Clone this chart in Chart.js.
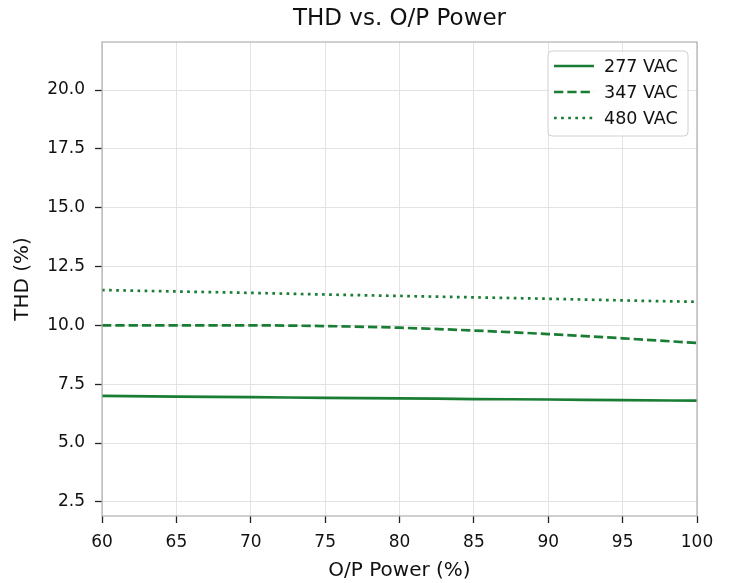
<!DOCTYPE html>
<html>
<head>
<meta charset="utf-8">
<script src="https://cdn.jsdelivr.net/npm/chart.js@4/dist/chart.umd.min.js"></script>
<style>
html,body{margin:0;padding:0;background:#fff;}
#wrap{width:730px;height:583px;position:relative;}
</style>
</head>
<body>
<div id="wrap"><canvas id="c"></canvas></div>
<script>
const opPower = [60, 65, 70, 75, 80, 85, 90, 95, 100];
const thd277 = [7.00, 6.97, 6.95, 6.92, 6.90, 6.87, 6.85, 6.82, 6.80];
const thd347 = [10.00, 10.00, 10.00, 9.97, 9.90, 9.78, 9.63, 9.45, 9.25];
const thd480 = [11.50, 11.44, 11.38, 11.31, 11.25, 11.19, 11.13, 11.06, 11.00];
const seriesLabels = ['277 VAC', '347 VAC', '480 VAC'];
const yTickValues = [2.5, 5.0, 7.5, 10.0, 12.5, 15.0, 17.5, 20.0];
const xTickValues = [60, 65, 70, 75, 80, 85, 90, 95, 100];
const chartTitle = 'THD vs. O/P Power';

const GREEN = 'rgb(26,125,52)';
const FONT = "'DejaVu Sans', sans-serif";
const dashes = [[], [9.3, 4], [2.7, 4.4]];

function pts(arr){ return opPower.map((x,i)=>({x:x, y:arr[i]})); }

const frameLegend = {
  id: 'frameLegend',
  afterDraw(chart) {
    const {ctx, chartArea: a} = chart;
    ctx.save();
    // title centered over plot area
    ctx.fillStyle = '#111';
    ctx.font = '23px ' + FONT;
    ctx.textAlign = 'center';
    ctx.textBaseline = 'middle';
    ctx.fillText(chartTitle, (a.left + a.right) / 2, 19);
    // frame
    ctx.strokeStyle = '#b0b0b0';
    ctx.lineWidth = 1.2;
    ctx.strokeRect(a.left, a.top, a.right - a.left, a.bottom - a.top);
    // legend
    const bx = 548, by = 51, bw = 140, bh = 85, r = 4;
    ctx.beginPath();
    ctx.moveTo(bx + r, by);
    ctx.arcTo(bx + bw, by, bx + bw, by + bh, r);
    ctx.arcTo(bx + bw, by + bh, bx, by + bh, r);
    ctx.arcTo(bx, by + bh, bx, by, r);
    ctx.arcTo(bx, by, bx + bw, by, r);
    ctx.closePath();
    ctx.fillStyle = 'rgba(255,255,255,0.8)';
    ctx.fill();
    ctx.strokeStyle = '#d0d0d0';
    ctx.lineWidth = 1;
    ctx.stroke();
    const rows = [66, 92, 118];
    chart.data.datasets.forEach((ds, i) => {
      ctx.beginPath();
      ctx.setLineDash(ds.borderDash || []);
      ctx.strokeStyle = ds.borderColor;
      ctx.lineWidth = ds.borderWidth;
      ctx.moveTo(554, rows[i]);
      ctx.lineTo(594, rows[i]);
      ctx.stroke();
      ctx.setLineDash([]);
      ctx.fillStyle = '#111';
      ctx.font = '17.5px ' + FONT;
      ctx.textBaseline = 'middle';
      ctx.textAlign = 'left';
      ctx.fillText(ds.label, 604, rows[i] + 1);
    });
    ctx.restore();
  }
};

new Chart(document.getElementById('c'), {
  type: 'line',
  data: {
    datasets: [thd277, thd347, thd480].map((d, i) => ({
      label: seriesLabels[i],
      data: pts(d),
      borderColor: GREEN,
      backgroundColor: GREEN,
      borderWidth: 2.7,
      borderDash: dashes[i],
      pointRadius: 0,
      fill: false,
      cubicInterpolationMode: 'monotone'
    }))
  },
  options: {
    responsive: true,
    maintainAspectRatio: false,
    animation: false,
    layout: { padding: { left: 0, right: 33, top: 42, bottom: 0 } },
    plugins: {
      legend: { display: false },
      tooltip: { enabled: false },
      title: { display: false }
    },
    scales: {
      x: {
        type: 'linear',
        min: 60, max: 100,
        afterFit(s) { s.height = 67; },
        afterBuildTicks(s) { s.ticks = xTickValues.map(v => ({value: v})); },
        ticks: {
          color: '#111',
          font: { family: FONT, size: 17 },
          padding: 9,
          maxRotation: 0,
          callback: v => String(v)
        },
        grid: { color: '#e3e3e3', lineWidth: 1, tickColor: '#222', tickLength: 7, tickWidth: 1.3 },
        border: { display: false },
        title: {
          display: true, text: 'O/P Power (%)', color: '#111',
          font: { family: FONT, size: 20 }, padding: { top: 0, bottom: 0 }
        }
      },
      y: {
        type: 'linear',
        min: 1.9, max: 22.04,
        afterFit(s) { s.width = 102; },
        afterBuildTicks(s) { s.ticks = yTickValues.map(v => ({value: v})); },
        ticks: {
          color: '#111',
          font: { family: FONT, size: 17 },
          padding: 10,
          callback: v => Number(v).toFixed(1)
        },
        grid: { color: '#e3e3e3', lineWidth: 1, tickColor: '#222', tickLength: 7, tickWidth: 1.3 },
        border: { display: false },
        title: {
          display: true, text: 'THD (%)', color: '#111',
          font: { family: FONT, size: 20 }, padding: { top: 11, bottom: 0 }
        }
      }
    }
  },
  plugins: [frameLegend]
});
</script>
</body>
</html>
